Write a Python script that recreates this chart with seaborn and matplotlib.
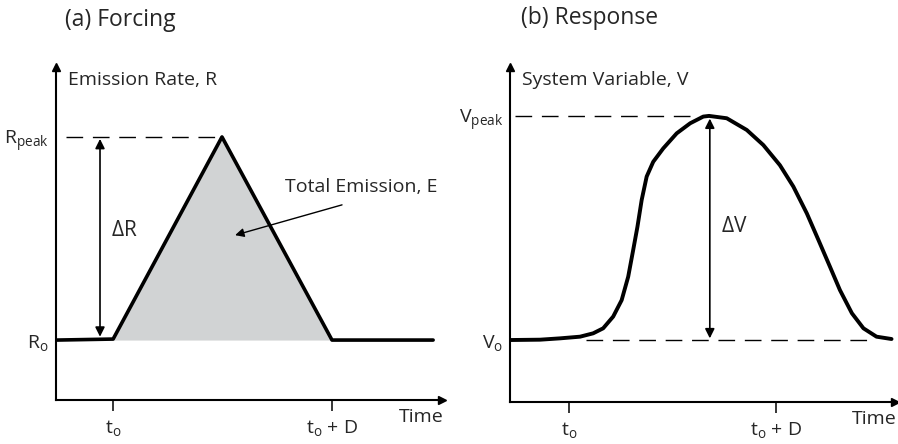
import matplotlib.pyplot as plt
import seaborn as sns

# (a) forcing: time and emission rate, both in % of the axis box
forcing_time = [0.3, 14.8, 43.0, 71.5, 97.7]
forcing_rate = [18.0, 18.3, 79.0, 18.0, 18.0]
r_base = 18.0
r_peak = 79.0

# (b) response: system variable
response_time = [0.0, 7.8, 13.0, 18.2, 21.6, 24.2, 26.8, 29.0, 30.7, 32.0, 33.1,
                 34.2, 35.5, 37.2, 39.8, 43.3, 46.8, 50.2, 51.7, 56.3, 61.5,
                 65.8, 70.1, 73.6, 77.1, 80.1, 83.1, 85.7, 88.8, 91.8, 95.2, 99.1]
response_value = [18.5, 18.6, 19.0, 19.5, 20.5, 22.0, 25.5, 30.4, 37.4, 45.4, 52.3,
                  60.3, 67.3, 71.7, 75.7, 80.2, 83.2, 85.2, 85.4, 84.7, 81.2,
                  76.7, 70.7, 64.3, 56.3, 48.4, 40.4, 33.4, 26.5, 22.0, 19.5, 18.8]
v_base = 18.5
v_peak = 85.4

t_start = [14.8, 15.3]
t_end = [71.5, 69.1]

titles = ['(a) Forcing', '(b) Response']
y_titles = ['Emission Rate, R', 'System Variable, V']
y_ticklabels = [[r'$R_o$', r'$R_{peak}$'], [r'$V_o$', r'$V_{peak}$']]
x_ticklabels = [r'$t_o$', r'$t_o$ + D']

sns.set_style("white")
plt.rcParams['font.family'] = ['Open Sans', 'DejaVu Sans']
plt.rcParams['mathtext.default'] = 'regular'

fig = plt.figure(figsize=(8.98, 4.44), dpi=100)
ax_a = fig.add_axes([56 / 898, 1 - 400 / 444, 386 / 898, 333 / 444])
ax_b = fig.add_axes([510 / 898, 1 - 402 / 444, 385 / 898, 335 / 444])

dash = (0, (12, 7))


def setup_axis(ax, i, base, peak):
    ax.set_xlim(0, 100)
    ax.set_ylim(0, 100)
    for s in ['top', 'right']:
        ax.spines[s].set_visible(False)
    for s in ['left', 'bottom']:
        ax.spines[s].set_linewidth(1.5)
        ax.spines[s].set_color('black')
    ax.plot(1, 0, marker='>', color='black', ms=6, transform=ax.transAxes, clip_on=False)
    ax.plot(0, 1, marker='^', color='black', ms=6, transform=ax.transAxes, clip_on=False)
    ax.set_xticks([t_start[i], t_end[i]])
    ax.set_xticklabels(x_ticklabels, fontsize=14)
    ax.tick_params(axis='x', direction='out', length=8, width=1.3, pad=5, bottom=True)
    ax.set_yticks([base, peak])
    ax.set_yticklabels(y_ticklabels[i], fontsize=14)
    ax.tick_params(axis='y', length=0, pad=5)
    ax.text(1.005, -0.05, 'Time', transform=ax.transAxes, ha='right', va='center', fontsize=14)
    ax.text(0.03, 0.96, y_titles[i], transform=ax.transAxes, ha='left', va='center', fontsize=14)
    ax.set_xlabel('')
    ax.set_ylabel('')


# panel (a)
setup_axis(ax_a, 0, r_base, r_peak)
ax_a.fill_between(forcing_time, r_base, forcing_rate, color='#d1d3d4', lw=0)
sns.lineplot(x=forcing_time, y=forcing_rate, ax=ax_a, color='black', lw=2.6, sort=False)
ax_a.plot([2.6, 43.0], [r_peak, r_peak], color='black', lw=1, ls=dash)
ax_a.annotate('', xy=(11.4, r_peak - 0.6), xytext=(11.4, r_base + 1),
              arrowprops=dict(arrowstyle='<|-|>', color='black', lw=1.2,
                              mutation_scale=14, shrinkA=0, shrinkB=0))
ax_a.text(14.2, 51, r'$\Delta R$', ha='left', va='center', fontsize=15)
ax_a.text(59.3, 64, 'Total Emission, E', ha='left', va='center', fontsize=14)
ax_a.annotate('', xy=(46.4, 49.5), xytext=(74.1, 58.6),
              arrowprops=dict(arrowstyle='-|>', color='black', lw=1,
                              mutation_scale=13, shrinkA=0, shrinkB=0))

# panel (b)
setup_axis(ax_b, 1, v_base, v_peak)
ax_b.plot([1.3, 49.4], [v_peak, v_peak], color='black', lw=1, ls=dash)
ax_b.plot([19.7, 93.5], [v_base, v_base], color='black', lw=1, ls=dash)
sns.lineplot(x=response_time, y=response_value, ax=ax_b, color='black', lw=2.8, sort=False)
ax_b.annotate('', xy=(51.9, v_peak - 0.8), xytext=(51.9, v_base + 0.5),
              arrowprops=dict(arrowstyle='<|-|>', color='black', lw=1.2,
                              mutation_scale=14, shrinkA=0, shrinkB=0))
ax_b.text(54.8, 52.5, r'$\Delta V$', ha='left', va='center', fontsize=15)

fig.text(65 / 898, 1 - 20 / 444, titles[0], ha='left', va='center', fontsize=16.5)
fig.text(521 / 898, 1 - 18 / 444, titles[1], ha='left', va='center', fontsize=16.5)

plt.savefig('out.png', dpi=100)
